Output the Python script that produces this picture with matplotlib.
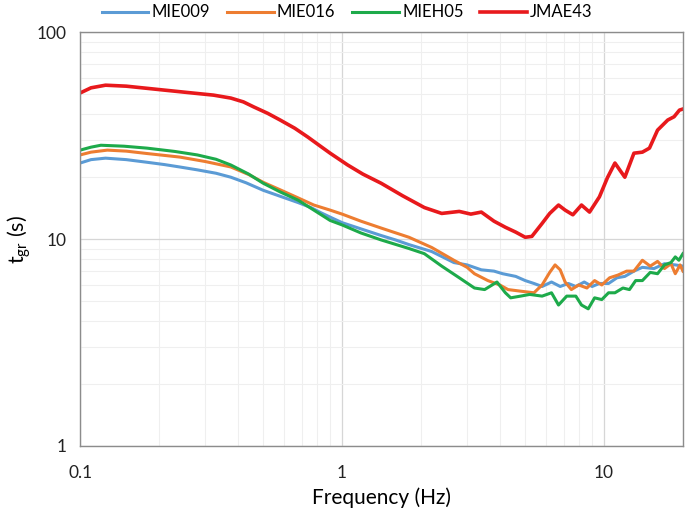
import matplotlib
matplotlib.use('Agg')
import matplotlib.pyplot as plt
from matplotlib.ticker import LogLocator, FixedLocator, FixedFormatter, NullFormatter

plt.rcParams['font.family'] = ['Lato', 'DejaVu Sans']

# frequency (Hz) / group delay time (s)
f_mie009 = [0.1, 0.11, 0.125, 0.15, 0.18, 0.21, 0.24, 0.28, 0.33, 0.376, 0.43, 0.5, 0.58, 0.68, 0.76, 0.83,
            0.92, 1.0, 1.18, 1.41, 1.6, 1.8, 2.2, 2.67, 3.0, 3.4, 3.8, 4.1, 4.6, 5.0, 5.4, 5.8, 6.3,
            6.8, 7.3, 7.8, 8.4, 9.0, 9.6, 10.4, 11.2, 12.0, 13.0, 14.0, 15.5, 17.0, 18.7, 20.0]
t_mie009 = [23.3, 24.2, 24.6, 24.2, 23.5, 22.9, 22.3, 21.6, 20.8, 19.9, 18.7, 17.2, 16.1, 15.0, 14.2, 13.4,
            12.6, 12.0, 11.2, 10.4, 9.9, 9.4, 8.7, 7.7, 7.5, 7.1, 7.0, 6.8, 6.6, 6.3, 6.1, 5.9, 6.2,
            5.9, 6.1, 5.9, 6.2, 5.9, 6.1, 6.1, 6.5, 6.6, 7.0, 7.3, 7.2, 7.6, 7.5, 7.4]

f_mie016 = [0.1, 0.11, 0.127, 0.15, 0.18, 0.24, 0.3, 0.376, 0.44, 0.5, 0.58, 0.68, 0.78, 0.9, 1.0, 1.18,
            1.41, 1.8, 2.2, 2.67, 3.0, 3.2, 3.6, 4.0, 4.3, 4.8, 5.4, 5.8, 6.2, 6.5, 6.8, 7.1, 7.5,
            8.0, 8.6, 9.2, 9.8, 10.5, 11.3, 12.2, 13.0, 14.0, 15.0, 16.0, 17.0, 18.0, 18.7, 19.5, 20.0]
t_mie016 = [25.5, 26.3, 26.9, 26.6, 25.9, 24.9, 23.7, 22.3, 20.5, 18.8, 17.3, 15.8, 14.6, 13.8, 13.2, 12.2,
            11.3, 10.2, 9.1, 7.9, 7.3, 6.8, 6.3, 6.0, 5.7, 5.6, 5.5, 6.0, 6.9, 7.5, 7.1, 6.2, 5.7,
            6.0, 5.8, 6.3, 6.0, 6.5, 6.7, 7.0, 7.0, 7.9, 7.4, 7.8, 7.2, 7.6, 6.8, 7.5, 7.0]

f_mieh05 = [0.1, 0.11, 0.12, 0.147, 0.18, 0.23, 0.28, 0.33, 0.376, 0.44, 0.5, 0.58, 0.68, 0.78, 0.9, 1.0,
            1.18, 1.41, 1.8, 2.06, 2.4, 2.8, 3.2, 3.5, 3.9, 4.2, 4.4, 4.8, 5.2, 5.8, 6.3, 6.7, 7.2,
            7.8, 8.2, 8.7, 9.2, 9.8, 10.4, 11.0, 11.8, 12.5, 13.2, 14.0, 15.0, 16.0, 17.0, 18.0, 18.7,
            19.3, 20.0]
t_mieh05 = [26.9, 27.8, 28.4, 28.1, 27.5, 26.5, 25.5, 24.3, 22.8, 20.6, 18.6, 16.9, 15.4, 13.8, 12.3, 11.7,
            10.7, 9.9, 9.0, 8.5, 7.4, 6.5, 5.8, 5.7, 6.2, 5.5, 5.2, 5.3, 5.4, 5.3, 5.5, 4.8, 5.3,
            5.3, 4.8, 4.6, 5.2, 5.1, 5.5, 5.5, 5.8, 5.7, 6.3, 6.3, 6.9, 6.8, 7.5, 7.7, 8.2,
            7.9, 8.5]

f_jmae43 = [0.1, 0.11, 0.125, 0.15, 0.208, 0.26, 0.323, 0.376, 0.42, 0.46, 0.52, 0.58, 0.66, 0.74, 0.82, 0.9,
            1.05, 1.2, 1.41, 1.7, 2.06, 2.4, 2.8, 3.1, 3.4, 3.8, 4.2, 4.6, 5.0, 5.3, 5.8, 6.2, 6.7,
            7.1, 7.6, 8.2, 8.8, 9.6, 10.3, 11.0, 12.0, 13.0, 14.0, 14.9, 16.0, 17.5, 18.5, 19.4, 20.0]
t_jmae43 = [50.8, 53.8, 55.4, 54.8, 52.5, 51.0, 49.6, 48.0, 46.0, 43.5, 40.5, 37.6, 34.3, 31.1, 28.3, 26.0,
            22.8, 20.6, 18.6, 16.2, 14.2, 13.3, 13.6, 13.2, 13.5, 12.2, 11.4, 10.8, 10.2, 10.3, 11.9, 13.3, 14.6,
            13.8, 13.1, 14.6, 13.5, 16.0, 19.8, 23.3, 19.9, 26.0, 26.3, 27.5, 33.6, 37.6, 39.0, 42.0, 42.5]

names = ['MIE009', 'MIE016', 'MIEH05', 'JMAE43']
colors = ['#5B9BD5', '#ED7D31', '#1DAA4A', '#E8191C']

fig = plt.figure(figsize=(6.85, 5.18), dpi=100)
ax = fig.add_axes([0.117, 0.139, 0.880, 0.799])

series = [(f_mie009, t_mie009), (f_mie016, t_mie016), (f_mieh05, t_mieh05), (f_jmae43, t_jmae43)]
for (f, t), name, c in zip(series, names, colors):
    ax.plot(f, t, color=c, lw=2.6 if name == 'JMAE43' else 2.2, label=name)

ax.set_xscale('log')
ax.set_yscale('log')
ax.set_xlim(0.1, 20)
ax.set_ylim(1, 100)

ax.xaxis.set_major_locator(FixedLocator([0.1, 1, 10]))
ax.xaxis.set_major_formatter(FixedFormatter(['0.1', '1', '10']))
ax.yaxis.set_major_locator(FixedLocator([1, 10, 100]))
ax.yaxis.set_major_formatter(FixedFormatter(['1', '10', '100']))
for a in (ax.xaxis, ax.yaxis):
    a.set_minor_locator(LogLocator(base=10, subs=range(2, 10)))
    a.set_minor_formatter(NullFormatter())

ax.grid(which='major', color='#d6d6d6', lw=0.9)
ax.grid(which='minor', color='#efefef', lw=0.8)
ax.set_axisbelow(True)
ax.tick_params(which='both', length=0, labelsize=12.5, colors='#222222', pad=14)
ax.tick_params(axis='y', pad=10)
for s in ax.spines.values():
    s.set_color('#8c8c8c')
    s.set_linewidth(1.0)

ax.set_xlabel('Frequency (Hz)', fontsize=15, labelpad=4)
ax.set_ylabel(r'$\mathregular{t_{gr}}$ (s)', fontsize=15.5)
ax.yaxis.set_label_coords(-0.078, 0.5)

fig.legend(loc='center', bbox_to_anchor=(0.507, 0.976), ncol=4, frameon=False,
           fontsize=12, handlelength=2.8, columnspacing=1.0, handletextpad=0.2)

fig.savefig('out.png', dpi=100)
